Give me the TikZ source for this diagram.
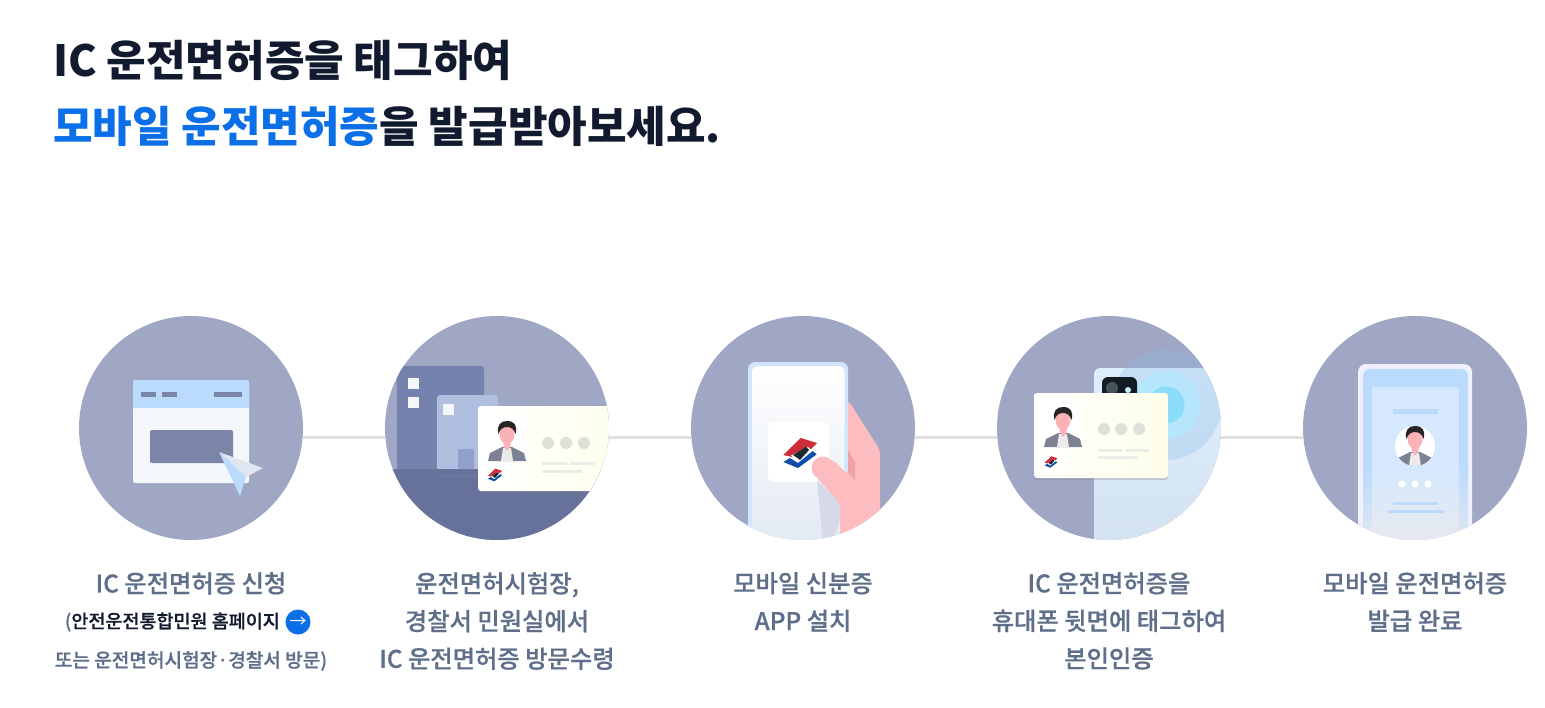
\documentclass[tikz,border=0pt]{standalone}
\usepackage{fontspec}
\setmainfont{Noto Sans CJK KR}
\newfontfamily\medfont[FakeBold=0.6]{Noto Sans CJK KR Medium}
\usepackage{xcolor}
\usetikzlibrary{shadows}
\definecolor{discblue}{HTML}{9FA7C5}
\definecolor{linkgray}{HTML}{E0E0E0}
\definecolor{inkdark}{HTML}{111A2E}
\definecolor{inkblue}{HTML}{0B6FE8}
\definecolor{inkgray}{HTML}{5F6F8A}
\definecolor{barblue}{HTML}{7A85A8}
\definecolor{skyblue}{HTML}{BBDBFD}
\definecolor{paleblue}{HTML}{D5E8FD}
\definecolor{mist}{HTML}{ECEAEA}
\definecolor{cardcream}{HTML}{FEFEEA}
\definecolor{dotgray}{HTML}{DFE0DA}
\definecolor{handpink}{HTML}{FDBCBF}
\definecolor{facepink}{HTML}{FBB1B5}
\definecolor{coatgray}{HTML}{7C8294}
\definecolor{logored}{HTML}{CC2E3C}
\definecolor{logoblue}{HTML}{0F4DA8}
\definecolor{logodark}{HTML}{1C2A33}
\definecolor{winwhite}{HTML}{F4F7F9}
\definecolor{pointgray}{HTML}{E0E6F0}
\definecolor{towerblue}{HTML}{7682AE}
\definecolor{annexblue}{HTML}{B0BEDF}
\definecolor{doorblue}{HTML}{929FCB}
\definecolor{ground}{HTML}{67729A}
\definecolor{phonelow}{HTML}{E2E9F2}
\definecolor{sleeve}{HTML}{D5DAE6}
\definecolor{fingerdark}{HTML}{F0A3A6}
\definecolor{backtop}{HTML}{DCEEFD}
\definecolor{backlow}{HTML}{D3E1F0}
\definecolor{waveout}{HTML}{8FBCE6}
\definecolor{wavemid}{HTML}{B5E6FB}
\definecolor{waveinn}{HTML}{8ADCF9}
\tikzstyle{disc}=[circle,fill=discblue,minimum size=224pt,inner sep=0pt]
\tikzstyle{link}=[draw=linkgray,line width=3pt]
\tikzstyle{title}=[anchor=west,text=inkdark,font=\fontsize{43}{50}\selectfont\bfseries,inner sep=0pt]
\tikzstyle{label}=[anchor=north,text=inkgray,align=center,inner sep=0pt,font=\fontsize{24.3}{37.6}\selectfont\medfont]
\tikzstyle{card}=[left color=white,right color=cardcream,rounded corners=3pt]
\tikzset{
  person/.pic={
    \fill[coatgray] (-19,22) -- (-17,14) -- (-5,8) -- (5,8) -- (17,14) -- (19,22) -- cycle;
    \fill[mist] (-6,22) -- (-4,9) -- (4,9) -- (6,22) -- cycle;
    \fill[facepink] (-3.5,0) -- (3.5,0) -- (3.5,7) -- (0,12) -- (-3.5,7) -- cycle;
    \fill[facepink] (0,-5) ellipse (7.5 and 10);
    \fill[black!85] (-8.5,-5) .. controls (-11,-14) and (-6,-18) .. (0,-18)
      .. controls (7,-18) and (11,-14) .. (8.5,-5) .. controls (7,-10) and (4,-12) .. (0,-12)
      .. controls (-4,-12) and (-7,-10) .. (-8.5,-5) -- cycle;
  },
  logo/.pic={
    \fill[logored] (0.7,-15) -- (17,-10) -- (1,6) -- (-16.7,2) -- cycle;
    \fill[white] (-9,2.5) -- (-2,10) -- (12.7,-2) -- (8,-6) -- cycle;
    \fill[logodark] (-7,2) -- (6,-6) -- (9,-3) -- (0,7) -- cycle;
    \fill[logoblue] (-16.7,9) -- (-2,15) -- (16.7,1.3) -- (12.7,-2) -- (-2,10) -- (-10,5) -- cycle;
  }
}
\begin{document}
\begin{tikzpicture}[x=1pt,y=-1pt]
  \useasboundingbox (0,0) rectangle (1545,707);
  %%% heading
  \node[title] (head1) at (53,60) {IC 운전면허증을 태그하여};
  \node[title] (head2) at (53,126) {\textcolor{inkblue}{모바일 운전면허증}을 발급받아보세요.};
  %%% the five discs
  \foreach \n/\x in {1/191,2/497,3/803,4/1109,5/1415}
    \node[disc] (c\n) at (\x,428) {};
  %% the links
  \foreach \a/\b in {1/2,2/3,3/4,4/5}
    \draw[link] (c\a.-5.5) -- (c\b.185.5);

  %%% disc 1, window
  \fill[winwhite,rounded corners=2pt] (133,380) rectangle (249,483);
  \fill[skyblue,rounded corners=2pt] (133,380) rectangle (249,408);
  \foreach \xa/\xb in {141/156,162/177,214/242}
    \fill[barblue] (\xa,392) rectangle (\xb,397);
  \fill[barblue,rounded corners=2pt] (150,430) rectangle (233,463);
  % the pointer
  \fill[pointgray] (219,452) -- (263,468) -- (246,477) -- cycle;
  \fill[skyblue] (219,452) -- (246,477) -- (240,496) -- cycle;

  %%% disc 2, buildings
  \begin{scope}
    \clip (c2) circle (112);
    \fill[towerblue,rounded corners=3pt] (397,366) rectangle (484,480);
    \fill[ground] (380,469) rectangle (620,545);
    \fill[annexblue,rounded corners=3pt] (437,395) rectangle (498,475);
    \fill[ground] (437,469) rectangle (498,475);
    \fill[doorblue,rounded corners=2pt] (458,449) rectangle (474,469);
    \foreach \wx/\wy in {408/378,408/397,443/404}
      \fill[winwhite] (\wx,\wy) rectangle ++(11,11);
    \shade[card,drop shadow={shadow xshift=0pt,shadow yshift=-1.5pt,opacity=.2}] (478,406) rectangle (640,491);
    \fill[white] (487,417) rectangle (526,461);
    \pic at (507,439) {person};
    \pic[scale=.42] at (495,475) {logo};
    \foreach \dx in {548,566,584}
      \fill[dotgray] (\dx,443) circle (6);
    \foreach \xa/\xb/\ly in {542/567/463,570/595/463,542/582/471}
      \fill[dotgray!60!white] (\xa,\ly-1.5) rectangle (\xb,\ly+1.5);
  \end{scope}

  %%% disc 3, phone in a hand
  \begin{scope}
    \clip (c3) circle (112);
    \fill[skyblue!70!white,rounded corners=7pt] (748,362) rectangle (848,560);
    \shade[top color=white,bottom color=phonelow,rounded corners=6pt] (752,366) rectangle (844.5,550);
    \fill[white,rounded corners=5pt] (768,422) rectangle (829,482);
    \pic at (800,453) {logo};
    % the sleeve shadow
    \fill[sleeve] (817,480) -- (840,503) -- (840,520) -- (830,545) -- (823,545) -- cycle;
    \fill[handpink,rounded corners=4pt] (848,400) -- (880,450) -- (880,560) -- (840,560) -- (840,503) -- (816,477) -- (832,459) -- (848,475) -- cycle;
    \fill[handpink] (823,468) circle (11.5);
    \fill[fingerdark] (848,450) -- (855,462) -- (855,480) -- (848,473) -- cycle;
  \end{scope}

  %%% disc 4, card on the back of a phone
  \begin{scope}
    \clip (c4) circle (112);
    \shade[top color=backtop,bottom color=backlow,rounded corners=6pt] (1094,368) rectangle (1240,560);
    % the waves
    \fill[waveout,opacity=.3] (1166,405) circle (55);
    \fill[wavemid] (1166,405) circle (34);
    \fill[waveinn] (1166,405) circle (18.5);
    % the camera
    \fill[logodark!70!black,rounded corners=6pt] (1102,377) rectangle (1137,420);
    \fill[logodark!80!white] (1112,388) circle (6);
    \fill[white!80!cyan] (1128,390) circle (3);
    \shade[card,drop shadow={shadow xshift=0pt,shadow yshift=-2pt,opacity=.3}] (1034,393) rectangle (1168,478);
    \fill[white] (1044,403) rectangle (1082,447);
    \pic at (1063,425) {person};
    \pic[scale=.38] at (1051,462) {logo};
    \foreach \dx in {1104,1121,1139}
      \fill[dotgray] (\dx,429) circle (6);
    \foreach \xa/\xb/\ly in {1098/1122/450,1125/1149/450,1098/1138/457}
      \fill[dotgray!60!white] (\xa,\ly-1.5) rectangle (\xb,\ly+1.5);
  \end{scope}

  %%% disc 5, finished licence on a phone
  \begin{scope}
    \clip (c5) circle (112);
    \fill[blue!6!white,rounded corners=8pt] (1358,364) rectangle (1472,560);
    \fill[skyblue,rounded corners=7pt] (1363,369) rectangle (1468,480);
    \shade[top color=skyblue,bottom color=mist] (1363,470) rectangle (1468,560);
    \fill[paleblue,rounded corners=2pt] (1372,387) rectangle (1459,480);
    \shade[top color=paleblue,bottom color=mist] (1372,470) rectangle (1459,560);
    \fill[skyblue] (1393,409) rectangle (1438,414);
    \fill[white] (1415,446) circle (20);
    \begin{scope}
      \clip (1415,446) circle (20);
      \pic at (1415,444) {person};
    \end{scope}
    \foreach \dx in {1402,1415,1428}
      \fill[white] (\dx,484) circle (3.5);
    \fill[skyblue] (1393,502) rectangle (1438,504.5);
    \fill[skyblue] (1388,510) rectangle (1444,512.5);
  \end{scope}

  %%% the captions
  \node[label] (cap1) at (191,572) {IC 운전면허증 신청};
  \node[anchor=east,inner sep=0pt,text=inkdark,font=\fontsize{18.5}{22}\selectfont\medfont] (cap1b) at (280,622) {\textcolor{inkgray}{(}안전운전통합민원 홈페이지};
  \node[circle,fill=inkblue,text=white,inner sep=0pt,minimum size=25pt,font=\fontsize{17}{20}\selectfont] (go) at (298,622) {→};
  \node[anchor=center,inner sep=0pt,text=inkgray,font=\fontsize{19.1}{22}\selectfont\medfont] (cap1c) at (191,661) {또는 운전면허시험장·경찰서 방문)};
  \node[label] (cap2) at (497,572) {운전면허시험장,\\경찰서 민원실에서\\IC 운전면허증 방문수령};
  \node[label] (cap3) at (803,572) {모바일 신분증\\APP 설치};
  \node[label] (cap4) at (1109,572) {IC 운전면허증을\\휴대폰 뒷면에 태그하여\\본인인증};
  \node[label] (cap5) at (1415,572) {모바일 운전면허증\\발급 완료};
\end{tikzpicture}
\end{document}
